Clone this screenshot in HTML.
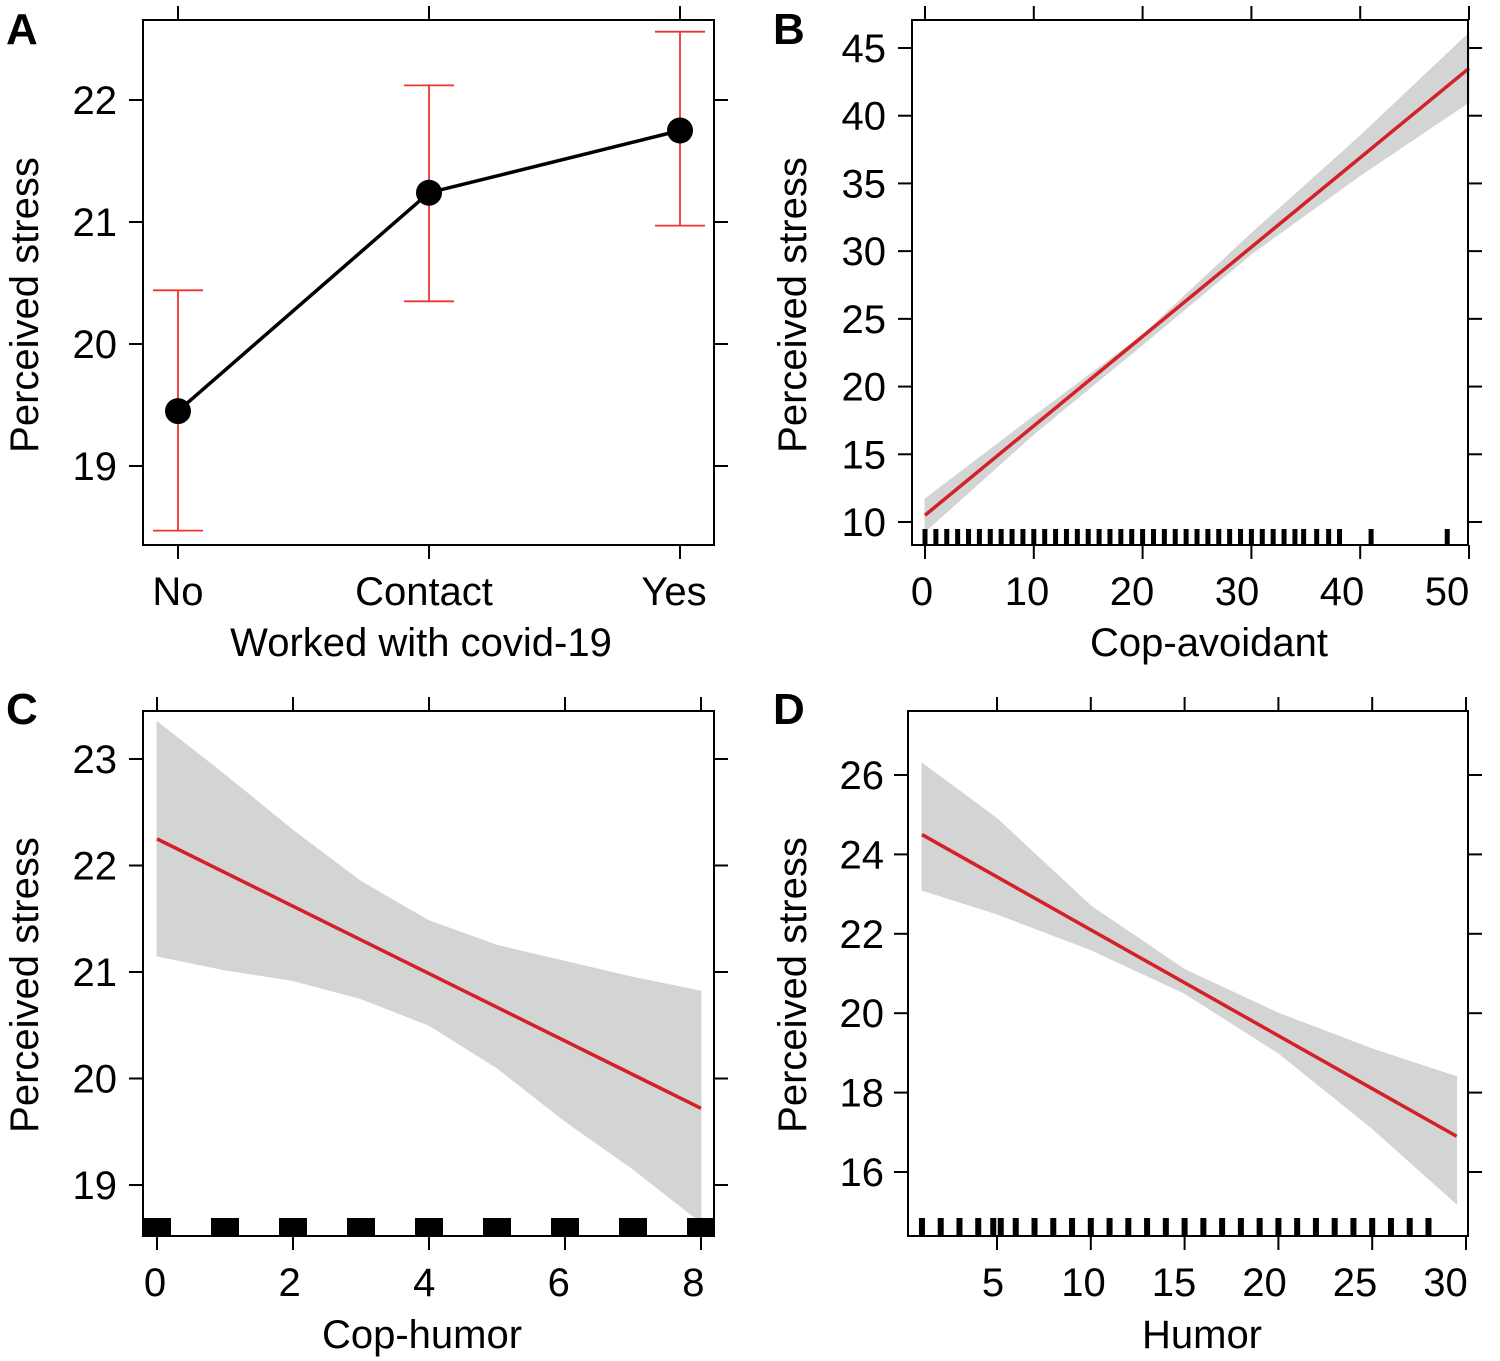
<!DOCTYPE html>
<html><head><meta charset="utf-8">
<style>
html,body{margin:0;padding:0;background:#fff;}
svg{display:block;font-family:"Liberation Sans","DejaVu Sans",sans-serif;}
</style></head>
<body>
<svg id="fig" width="1500" height="1361" viewBox="0 0 1500 1361" xmlns="http://www.w3.org/2000/svg"></svg>
<script>
// ---- Panel A data ----
const aCategories = ["No","Contact","Yes"];
const aMeans = [19.45, 21.24, 21.75];
const aLower = [18.47, 20.35, 20.97];
const aUpper = [20.44, 22.12, 22.56];
const aYTicks = [19,20,21,22];
// ---- Panel B data ----
const bLineX = [0, 50];
const bLineY = [10.5, 43.5];
const bBandX = [0, 10, 20, 30, 40, 50];
const bBandLo = [9.3, 16.5, 23.1, 29.8, 35.6, 41.0];
const bBandHi = [11.7, 17.8, 23.8, 31.3, 38.5, 46.1];
const bRug = [0,1,2,3,4,5,6,7,8,9,10,11,12,13,14,15,16,17,18,19,20,21,22,23,24,25,26,27,28,29,30,31,32,33,34,34.8,36,37.1,38.1,41,48];
const bXTicks = [0,10,20,30,40,50];
const bYTicks = [10,15,20,25,30,35,40,45];
// ---- Panel C data ----
const cLineX = [0, 8];
const cLineY = [22.25, 19.72];
const cBandX = [0, 1, 2, 3, 4, 5, 6, 7, 8];
const cBandLo = [21.15, 21.02, 20.92, 20.75, 20.5, 20.1, 19.6, 19.15, 18.65];
const cBandHi = [23.35, 22.85, 22.33, 21.85, 21.48, 21.25, 21.1, 20.95, 20.82];
const cRug = [0,1,2,3,4,5,6,7,8];
const cXTicks = [0,2,4,6,8];
const cYTicks = [19,20,21,22,23];
// ---- Panel D data ----
const dLineX = [1, 29.5];
const dLineY = [24.5, 16.9];
const dBandX = [1, 5, 10, 15, 20, 25, 29.5];
const dBandLo = [23.1, 22.5, 21.6, 20.5, 19.0, 17.1, 15.2];
const dBandHi = [26.3, 24.9, 22.7, 21.1, 20.0, 19.1, 18.4];
const dRug = [1,2,3,4,4.8,5.2,6,7,8,9,10,11,12,13,14,15,16,17,18,19,20,21,22,23,24,25,26,27,28];
const dXTicks = [5,10,15,20,25,30];
const dYTicks = [16,18,20,22,24,26];

const NS = "http://www.w3.org/2000/svg";
const svg = document.getElementById('fig');
function el(tag, attrs, parent){
  const e = document.createElementNS(NS, tag);
  for (const k in attrs) e.setAttribute(k, attrs[k]);
  (parent||svg).appendChild(e);
  return e;
}
function lin(d0,d1,r0,r1){ return v => r0 + (v-d0)/(d1-d0)*(r1-r0); }

function frame(g, x0,y0,x1,y1){
  const r = el('rect',{x:x0,y:y0,width:x1-x0,height:y1-y0,fill:'none',stroke:'#000','stroke-width':2},g);
  
  
}
function yAxis(g, ticks, sy, x0, x1, labelX){
  ticks.forEach(t=>{
    const y = sy(t);
    const l1 = el('line',{x1:x0-14,x2:x0,y1:y,y2:y,stroke:'#000','stroke-width':2},g);
    
    
    const l2 = el('line',{x1:x1,x2:x1+14,y1:y,y2:y,stroke:'#000','stroke-width':2},g);
    
    
    const tx = el('text',{x:labelX,y:y+14,'text-anchor':'end','font-size':40},g);
    tx.textContent = t;
    
    
  });
}
function yTitle(g, x, y){
  const t = el('text',{x:x,y:y,'text-anchor':'middle','font-size':40,transform:`rotate(-90 ${x} ${y})`},g);
  t.textContent = 'Perceived stress';
  
  
}
function xTicks(g, ticks, sx, yTop, yBot, labelFn){
  ticks.forEach((t,i)=>{
    const x = sx(t);
    const l1 = el('line',{x1:x,x2:x,y1:yBot,y2:yBot+14,stroke:'#000','stroke-width':2},g);
    
    
    const l2 = el('line',{x1:x,x2:x,y1:yTop-14,y2:yTop,stroke:'#000','stroke-width':2},g);
    
    
    const tx = el('text',{x:labelFn ? labelFn(t,i) : x,y:yBot+60,'text-anchor':'middle','font-size':40},g);
    tx.textContent = t;
    
    
  });
}
function xTitle(g, text, x, y){
  const t = el('text',{x:x,y:y,'text-anchor':'middle','font-size':40},g);
  t.textContent = text;
  
  
}
function panelLetter(g, text, x, y){
  const t = el('text',{x:x,y:y,'font-size':44,'font-weight':'bold'},g);
  t.textContent = text;
  
  
}
function band(g, xs, lo, hi, sx, sy){
  let d = '';
  xs.forEach((x,i)=>{ d += (i?'L':'M') + sx(x) + ',' + sy(hi[i]); });
  for (let i=xs.length-1;i>=0;i--) d += 'L' + sx(xs[i]) + ',' + sy(lo[i]);
  const p = el('path',{d:d+'Z',fill:'#d3d4d4',stroke:'#d3d4d4','stroke-width':1,'stroke-linejoin':'round'},g);
  
  
}
function fitLine(g, xs, ys, sx, sy){
  const l = el('line',{x1:sx(xs[0]),y1:sy(ys[0]),x2:sx(xs[1]),y2:sy(ys[1]),stroke:'#d42027','stroke-width':3.5},g);
  
  
}
function rug(g, vals, sx, yb, h, w){
  vals.forEach(v=>{
    const r = el('rect',{x:sx(v)-w/2,y:yb-h,width:w,height:h,fill:'#000'},g);
    
    
  });
}

// ===== Panel A =====
(function(){
  const g = el('g',{});
  
  
  const x0=143,x1=714,y0=20,y1=545;
  const sy = lin(22,19,100,466);
  const pos = [178,429,680];
  const sx = i => pos[i];
  frame(g,x0,y0,x1,y1);
  yAxis(g,aYTicks,sy,x0,x1,117);
  aCategories.forEach((c,i)=>{
    const x = sx(i);
    const l1 = el('line',{x1:x,x2:x,y1:y1,y2:y1+14,stroke:'#000','stroke-width':2},g);
    
    
    const l2 = el('line',{x1:x,x2:x,y1:y0-14,y2:y0,stroke:'#000','stroke-width':2},g);
    
    
    const lx = [178,424,674][i];
    const t = el('text',{x:lx,y:y1+60,'text-anchor':'middle','font-size':40},g);
    t.textContent = c;
    
    
  });
  aCategories.forEach((c,i)=>{
    const x = sx(i);
    const e1 = el('line',{x1:x,x2:x,y1:sy(aLower[i]),y2:sy(aUpper[i]),stroke:'#ee3333','stroke-width':1.8},g);
    
    
    [aLower[i],aUpper[i]].forEach(v=>{
      const c2 = el('line',{x1:x-25,x2:x+25,y1:sy(v),y2:sy(v),stroke:'#ee3333','stroke-width':1.8},g);
      
      
    });
  });
  const pts = aMeans.map((m,i)=>sx(i)+','+sy(m)).join(' ');
  const pl = el('polyline',{points:pts,fill:'none',stroke:'#000','stroke-width':3.5},g);
  
  
  aMeans.forEach((m,i)=>{
    const c = el('circle',{cx:sx(i),cy:sy(m),r:13,fill:'#000'},g);
    
    
  });
  yTitle(g,38,305);
  xTitle(g,'Worked with covid-19',421,656);
  panelLetter(g,'A',6,44);
})();

// ===== Panel B =====
(function(){
  const g = el('g',{});
  
  
  const x0=912,x1=1468,y0=20,y1=545;
  const sx = lin(0,50,925,1469);
  const sy = lin(10,45,522,48);
  band(g,bBandX,bBandLo,bBandHi,sx,sy);
  fitLine(g,bLineX,bLineY,sx,sy);
  rug(g,bRug,sx,y1,16,5);
  frame(g,x0,y0,x1,y1);
  yAxis(g,bYTicks,sy,x0,x1,886);
  xTicks(g,bXTicks,sx,y0,y1,(t)=>922+t*10.5);
  yTitle(g,806,305);
  xTitle(g,'Cop-avoidant',1209,656);
  panelLetter(g,'B',773,44);
})();

// ===== Panel C =====
(function(){
  const g = el('g',{});
  
  
  const x0=143,x1=714,y0=711,y1=1236;
  const sx = lin(0,8,157,701);
  const sy = lin(19,23,1185,759);
  band(g,cBandX,cBandLo,cBandHi,sx,sy);
  fitLine(g,cLineX,cLineY,sx,sy);
  rug(g,cRug,sx,y1,18,28);
  frame(g,x0,y0,x1,y1);
  yAxis(g,cYTicks,sy,x0,x1,117);
  xTicks(g,cXTicks,sx,y0,y1,(t)=>155+t*67.3);
  yTitle(g,38,985);
  xTitle(g,'Cop-humor',422,1348);
  panelLetter(g,'C',6,724);
})();

// ===== Panel D =====
(function(){
  const g = el('g',{});
  
  
  const x0=908,x1=1468,y0=711,y1=1236;
  const sx = lin(5,30,997,1466);
  const sy = lin(16,26,1172,775);
  band(g,dBandX,dBandLo,dBandHi,sx,sy);
  fitLine(g,dLineX,dLineY,sx,sy);
  rug(g,dRug,sx,y1,18,6);
  frame(g,x0,y0,x1,y1);
  yAxis(g,dYTicks,sy,x0,x1,884);
  xTicks(g,dXTicks,sx,y0,y1,(t)=>993+(t-5)*18.1);
  yTitle(g,806,985);
  xTitle(g,'Humor',1202,1348);
  panelLetter(g,'D',773,724);
})();
</script>
</body></html>
